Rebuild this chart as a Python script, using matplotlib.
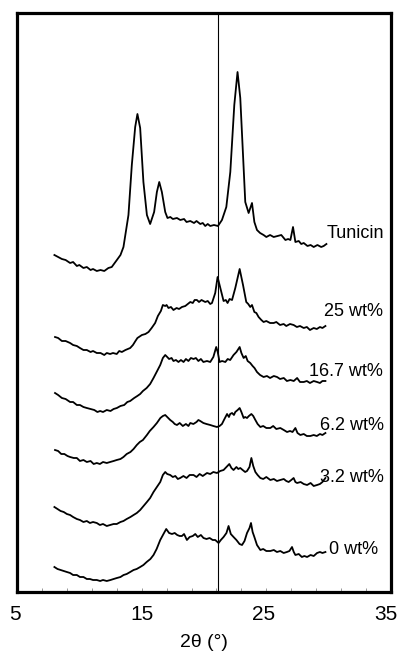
import matplotlib.pyplot as plt
import matplotlib.transforms as mtransforms

# 2-theta scans, stacked with a vertical offset (intensity in a.u.)
tunicin_x = [8.0, 8.3, 8.6, 8.9, 9.26, 9.5, 9.8, 10.0, 10.33, 10.6, 10.9, 11.1, 11.4, 11.7, 12.0, 12.33, 12.6,
             13.01, 13.3, 13.54, 13.94, 14.21, 14.48, 14.66, 14.88, 15.14, 15.42, 15.68, 16.0, 16.22, 16.41,
             16.62, 16.89, 17.07, 17.3, 17.5, 17.83, 18.1, 18.4, 18.6, 18.9, 19.2, 19.4, 19.7, 19.9, 20.1,
             20.3, 20.5, 20.8, 21.12, 21.44, 21.79, 22.11, 22.43, 22.69, 22.91, 23.13, 23.31, 23.58, 23.85,
             24.04, 24.25, 24.5, 24.78, 25.0, 25.3, 25.59, 25.9, 26.2, 26.53, 26.75, 26.93, 27.14, 27.33,
             27.6, 27.8, 28.0, 28.3, 28.55, 28.8, 29.1, 29.4, 29.6, 29.82]
tunicin_y = [337, 335, 333, 332, 329, 330, 326, 327, 324, 325, 322, 323, 321, 322, 321, 324, 325,
             332, 337, 345, 377, 427, 465, 478, 464, 410, 377, 368, 380, 400, 410,
             400, 380, 374, 375, 373, 374, 372, 373, 370, 371, 369, 371, 368, 369, 366,
             368, 366, 367, 366, 372, 385, 420, 487, 520, 494, 437, 390, 379, 389,
             370, 362, 359, 357, 355, 357, 355, 356, 357, 352, 353, 352, 365, 350,
             351, 348, 349, 346, 347, 345, 347, 345, 346, 348]

wt25_x = [8.05, 8.3, 8.6, 8.9, 9.26, 9.5, 9.8, 10.05, 10.33, 10.6, 10.9, 11.1, 11.4, 11.7, 12.0, 12.2, 12.47,
          12.7, 13.0, 13.2, 13.41, 13.7, 14.08, 14.3, 14.5, 14.66, 15.02, 15.3, 15.55, 15.8, 16.08, 16.3,
          16.54, 16.7, 16.89, 17.0, 17.15, 17.35, 17.55, 17.8, 18.0, 18.23, 18.5, 18.7, 18.9, 19.1, 19.25,
          19.43, 19.6, 19.8, 20.1, 20.3, 20.5, 20.64, 20.9, 21.09, 21.31, 21.57, 21.75, 21.89, 22.05, 22.25,
          22.51, 22.86, 23.13, 23.39, 23.55, 23.71, 23.85, 24.04, 24.2, 24.38, 24.6, 24.78, 25.0, 25.3,
          25.59, 25.8, 26.1, 26.39, 26.6, 26.9, 27.19, 27.45, 27.7, 28.0, 28.25, 28.5, 28.8, 29.05, 29.3,
          29.5, 29.74]
wt25_y = [255, 254, 251, 251, 249, 247, 246, 244, 242, 242, 240, 241, 239, 239, 237, 239, 238,
          239, 238, 241, 240, 242, 244, 247, 251, 254, 257, 258, 260, 264, 269, 276,
          281, 287, 286, 287, 284, 285, 282, 284, 283, 285, 286, 288, 290, 289, 292,
          292, 290, 292, 290, 291, 288, 289, 299, 315, 304, 291, 292, 289, 293, 292,
          304, 323, 307, 290, 288, 285, 287, 280, 279, 275, 272, 270, 271, 269,
          269, 270, 267, 268, 266, 268, 267, 265, 266, 264, 265, 262, 264, 263, 265,
          264, 266]

wt167_x = [8.05, 8.3, 8.6, 8.9, 9.26, 9.5, 9.8, 10.05, 10.33, 10.6, 10.9, 11.2, 11.45, 11.67, 11.9, 12.2,
           12.5, 12.75, 13.01, 13.3, 13.6, 13.85, 14.08, 14.4, 14.65, 14.88, 15.1, 15.4, 15.68, 15.95, 16.2,
           16.49, 16.7, 16.89, 17.05, 17.2, 17.4, 17.55, 17.75, 17.95, 18.15, 18.36, 18.55, 18.75, 18.95,
           19.16, 19.35, 19.55, 19.75, 19.95, 20.24, 20.5, 20.75, 20.98, 21.1, 21.25, 21.45, 21.71, 21.9,
           22.1, 22.37, 22.6, 22.86, 23.0, 23.18, 23.35, 23.5, 23.71, 23.9, 24.05, 24.25, 24.5, 24.78, 25.05,
           25.3, 25.6, 25.86, 26.1, 26.4, 26.65, 26.93, 27.2, 27.47, 27.7, 28.0, 28.25, 28.5, 28.8, 29.07,
           29.3, 29.5, 29.74]
wt167_y = [199, 197, 194, 193, 190, 190, 187, 187, 185, 184, 183, 182, 180, 181, 180, 182,
           181, 183, 184, 186, 187, 190, 191, 194, 196, 198, 201, 204, 208, 214, 220,
           227, 234, 237, 235, 233, 234, 231, 232, 230, 232, 230, 233, 231, 234,
           233, 234, 231, 233, 230, 231, 230, 235, 245, 240, 230, 231, 230, 233,
           232, 237, 240, 245, 239, 234, 236, 231, 229, 226, 224, 220, 217, 215, 216,
           214, 216, 215, 213, 214, 211, 212, 211, 214, 210, 210, 211, 209, 211, 210,
           209, 211, 211]

wt62_x = [8.05, 8.3, 8.55, 8.8, 9.05, 9.26, 9.55, 9.8, 10.05, 10.33, 10.6, 10.9, 11.15, 11.4, 11.65, 11.9,
          12.2, 12.47, 12.75, 13.0, 13.3, 13.54, 13.8, 14.1, 14.35, 14.61, 14.85, 15.1, 15.42, 15.65, 15.95,
          16.22, 16.5, 16.7, 16.89, 17.05, 17.29, 17.5, 17.65, 17.83, 18.05, 18.3, 18.55, 18.75, 18.9, 19.15,
          19.4, 19.55, 19.7, 19.95, 20.2, 20.5, 20.75, 21.04, 21.25, 21.44, 21.6, 21.85, 22.0, 22.1, 22.25,
          22.4, 22.51, 22.7, 22.86, 23.0, 23.18, 23.3, 23.45, 23.6, 23.8, 23.95, 24.12, 24.3, 24.52, 24.75,
          25.0, 25.32, 25.55, 25.8, 26.12, 26.4, 26.66, 26.9, 27.1, 27.33, 27.5, 27.73, 28.0, 28.25, 28.53,
          28.8, 29.05, 29.3, 29.5, 29.74]
wt62_y = [142, 141, 138, 138, 136, 135, 134, 134, 131, 132, 130, 131, 128, 129, 128, 130,
          129, 130, 131, 132, 133, 135, 138, 140, 143, 147, 150, 152, 157, 161, 165,
          169, 174, 176, 177, 175, 172, 170, 168, 167, 169, 166, 168, 166, 169, 168,
          170, 172, 171, 169, 168, 167, 166, 165, 166, 168, 172, 178, 175, 178, 179,
          177, 180, 182, 184, 180, 174, 175, 174, 176, 178, 176, 172, 168, 165, 166,
          164, 164, 166, 163, 164, 162, 160, 161, 160, 164, 159, 157, 158, 156, 156,
          157, 156, 158, 157, 159]

wt32_x = [8.0, 8.25, 8.5, 8.75, 9.0, 9.26, 9.5, 9.8, 10.05, 10.33, 10.6, 10.85, 11.1, 11.4, 11.65, 11.9,
          12.2, 12.47, 12.75, 13.0, 13.3, 13.54, 13.8, 14.1, 14.35, 14.61, 14.88, 15.15, 15.42, 15.68, 15.95,
          16.22, 16.49, 16.7, 16.89, 17.05, 17.29, 17.5, 17.7, 17.9, 18.09, 18.35, 18.6, 18.85, 19.16, 19.4,
          19.65, 19.9, 20.24, 20.5, 20.75, 21.04, 21.3, 21.57, 21.8, 22.03, 22.2, 22.37, 22.6, 22.75, 22.91,
          23.1, 23.3, 23.45, 23.65, 23.8, 23.95, 24.12, 24.3, 24.52, 24.75, 25.0, 25.32, 25.6, 25.85, 26.12,
          26.4, 26.6, 26.79, 27.0, 27.19, 27.33, 27.47, 27.75, 28.0, 28.27, 28.55, 28.8, 29.07, 29.3, 29.5,
          29.74]
wt32_y = [85, 83, 81, 80, 78, 77, 75, 73, 72, 70, 71, 69, 70, 69, 67, 68,
          66, 67, 68, 68, 70, 71, 73, 75, 77, 79, 82, 86, 90, 94, 100,
          105, 110, 117, 120, 118, 117, 115, 116, 113, 114, 116, 114, 117, 117, 115,
          118, 116, 119, 118, 120, 119, 121, 122, 125, 128, 124, 122, 125, 123, 124,
          122, 120, 121, 125, 134, 126, 120, 117, 114, 113, 115, 112, 113, 111, 112,
          113, 111, 110, 112, 114, 110, 109, 110, 108, 107, 109, 106, 107, 108, 110,
          114]

wt0_x = [8.0, 8.25, 8.5, 8.75, 9.0, 9.26, 9.5, 9.8, 10.05, 10.33, 10.6, 10.85, 11.1, 11.4, 11.67, 11.9,
         12.2, 12.5, 12.75, 13.01, 13.3, 13.55, 13.8, 14.08, 14.35, 14.6, 14.88, 15.14, 15.4, 15.7, 15.95,
         16.2, 16.49, 16.75, 16.97, 17.2, 17.43, 17.65, 17.85, 18.05, 18.23, 18.4, 18.63, 18.85, 19.1, 19.3,
         19.5, 19.75, 19.96, 20.2, 20.45, 20.7, 20.9, 21.17, 21.35, 21.57, 21.8, 21.97, 22.15, 22.37, 22.6,
         22.85, 23.05, 23.25, 23.45, 23.65, 23.77, 23.9, 24.04, 24.25, 24.52, 24.75, 25.0, 25.32, 25.6,
         25.85, 26.12, 26.39, 26.65, 26.85, 27.06, 27.2, 27.33, 27.6, 27.85, 28.05, 28.27, 28.55, 28.8,
         29.07, 29.3, 29.5, 29.74]
wt0_y = [25, 23, 22, 21, 20, 19, 17, 17, 15, 15, 13, 13, 12, 12, 11, 12,
         11, 12, 13, 14, 15, 17, 18, 20, 22, 23, 25, 27, 30, 33, 37,
         43, 52, 58, 63, 59, 58, 59, 57, 56, 56, 58, 52, 55, 56, 58,
         55, 57, 54, 53, 54, 52, 52, 49, 52, 55, 59, 66, 58, 55, 52,
         48, 47, 51, 59, 64, 69, 60, 55, 47, 42, 43, 41, 41, 42,
         40, 41, 39, 40, 41, 45, 40, 37, 38, 35, 36, 35, 37, 36,
         39, 40, 39, 40]

curves = [
    (tunicin_x, tunicin_y, 'Tunicin', 29.85, 359),
    (wt25_x, wt25_y, '25 wt%', 29.65, 281),
    (wt167_x, wt167_y, '16.7 wt%', 28.45, 221),
    (wt62_x, wt62_y, '6.2 wt%', 29.3, 166),
    (wt32_x, wt32_y, '3.2 wt%', 29.3, 114),
    (wt0_x, wt0_y, '0 wt%', 30.05, 43),
]
ref_line = 21.12

plt.rcParams['font.family'] = ['Liberation Sans', 'DejaVu Sans']
fig = plt.figure(figsize=(4.01, 6.65), dpi=100)
ax = fig.add_axes([17 / 401, 1 - 592 / 665, 374 / 401, 579 / 665])

for x, y, name, tx, ty in curves:
    ax.plot(x, y, color='black', linewidth=1.3, solid_joinstyle='round')
    ax.text(tx, ty, name, fontsize=13, ha='left', va='center')

ax.axvline(ref_line, color='black', linewidth=0.8)

ax.set_xlim(5, 35)
ax.set_ylim(0, 579)
ax.set_xticks([5, 15, 25, 35])
ax.set_xticks([7, 9, 11, 13, 17, 19, 21, 23, 27, 29, 31, 33], minor=True)
ax.set_yticks([])
ax.tick_params(axis='x', which='both', direction='in', length=3, width=0.6,
               color='#888888', labelsize=15, pad=9.5)
ax.set_xlabel('2θ (°)', fontsize=14, labelpad=7)
for s in ax.spines.values():
    s.set_linewidth(2.3)

# nudge the outer tick labels left so "35" stays inside the figure
for lab, dx in zip(ax.get_xticklabels(), [-2, 0, -3, -5]):
    lab.set_transform(lab.get_transform() + mtransforms.ScaledTranslation(dx / 100, 0, fig.dpi_scale_trans))

plt.savefig('out.png', dpi=100)
plt.close()
